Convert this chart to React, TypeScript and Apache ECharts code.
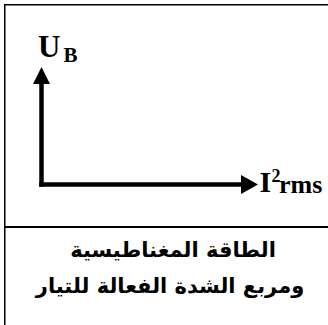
import React, { useEffect, useRef } from "react";
import * as echarts from "echarts";

const xName = ["I", "2", "rms"];
const yName = ["U", "B"];
const captionLines = ["الطاقة المغناطيسية", "ومربع الشدة الفعالة للتيار"];
const axisRange = [0, 1];

const serif = '"Liberation Serif", "Times New Roman", serif';
const arabic = '"DejaVu Sans", sans-serif';

export default function App() {
  const ref = useRef<HTMLDivElement>(null);
  useEffect(() => {
    document.body.style.margin = "0";
    const chart = echarts.init(ref.current!, undefined, { renderer: "svg" });
    const axisLine = (size: number[]) => ({
      show: true,
      onZero: false,
      symbol: ["none", "triangle"],
      symbolSize: size,
      lineStyle: { color: "#000", width: 4.5, cap: "square" },
    });
    chart.setOption({
      animation: false,
      backgroundColor: "#fff",
      grid: { left: 41.5, top: 75.5, right: 78.5, bottom: 140.5 },
      xAxis: {
        type: "value",
        min: axisRange[0],
        max: axisRange[1],
        axisLine: axisLine([19, 17]),
        axisTick: { show: false },
        axisLabel: { show: false },
        splitLine: { show: false },
      },
      yAxis: {
        type: "value",
        min: axisRange[0],
        max: axisRange[1],
        axisLine: axisLine([17, 17]),
        axisTick: { show: false },
        axisLabel: { show: false },
        splitLine: { show: false },
      },
      series: [],
      graphic: [
        { type: "line", shape: { x1: 4, y1: 4.75, x2: 328, y2: 4.75 }, style: { stroke: "#000", lineWidth: 1.5 } },
        { type: "line", shape: { x1: 4.75, y1: 4, x2: 4.75, y2: 325 }, style: { stroke: "#000", lineWidth: 1.5 } },
        { type: "line", shape: { x1: 4, y1: 227, x2: 328, y2: 227 }, style: { stroke: "#000", lineWidth: 2 } },
        { type: "text", x: 38, y: 46.5, style: { text: yName[0], font: `bold 31px ${serif}`, fill: "#000", verticalAlign: "middle" } },
        { type: "text", x: 63.5, y: 54.8, style: { text: yName[1], font: `bold 21px ${serif}`, fill: "#000", verticalAlign: "middle" } },
        { type: "text", x: 259.5, y: 181.8, style: { text: xName[0], font: `bold 30px ${serif}`, fill: "#000", verticalAlign: "middle" } },
        { type: "text", x: 271.5, y: 175.8, style: { text: xName[1], font: `bold 18px ${serif}`, fill: "#000", verticalAlign: "middle" } },
        { type: "text", x: 279, y: 184.7, style: { text: xName[2], font: `bold 26px ${serif}`, fill: "#000", verticalAlign: "middle" } },
        { type: "text", x: 173, y: 250, style: { text: captionLines[0], font: `bold 21px ${arabic}`, fill: "#000", align: "center", verticalAlign: "middle" } },
        { type: "text", x: 170, y: 286, style: { text: captionLines[1], font: `bold 21px ${arabic}`, fill: "#000", align: "center", verticalAlign: "middle" } },
      ],
    });
    return () => chart.dispose();
  }, []);
  return <div ref={ref} style={{ width: 328, height: 325 }} />;
}
